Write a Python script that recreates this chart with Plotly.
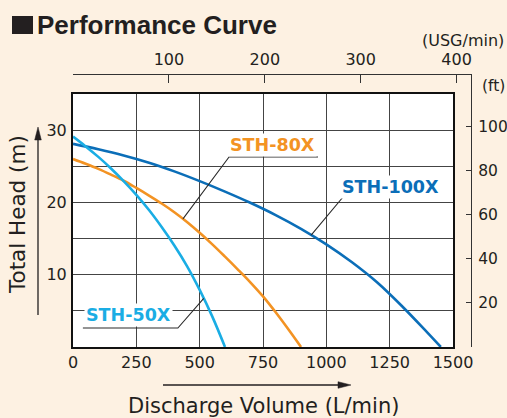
import numpy as np
import plotly.graph_objects as go

# ---------------- data ----------------
flow_50x = [0, 50, 100, 150, 200, 250, 300, 350, 400, 450, 500, 550, 600]
head_50x = [29.1, 27.75, 26.3, 24.7, 22.95, 21.05, 18.95, 16.6, 14.05, 11.2, 7.9, 4.2, 0.0]

flow_80x = [0, 50, 100, 150, 200, 250, 300, 350, 400, 450, 500, 550, 600, 650, 700, 750, 800, 850, 900]
head_80x = [26.0, 25.35, 24.65, 23.85, 23.0, 22.0, 20.95, 19.85, 18.65, 17.3, 15.8, 14.2, 12.5, 10.75,
            8.95, 7.0, 4.8, 2.45, 0.0]

flow_100x = [0, 100, 200, 300, 400, 500, 600, 700, 800, 900, 1000, 1100, 1200, 1300, 1400, 1452]
head_100x = [28.1, 27.35, 26.5, 25.5, 24.3, 22.95, 21.5, 19.95, 18.25, 16.35, 14.2, 11.75, 8.95, 5.6,
             1.95, 0.0]

series_names = ["STH-100X", "STH-80X", "STH-50X"]
series_colors = ["#0B6EB8", "#F39323", "#1AADE4"]

x_tickvals = [0, 250, 500, 750, 1000, 1250, 1500]
y_tickvals = [5, 10, 15, 20, 25, 30]
y_ticktext = ["", "10", "", "20", "", "30"]
usg_tickvals = [100, 200, 300, 400]
ft_tickvals = [20, 40, 60, 80, 100]

# label: name, text centre (L/min, m), underline x0, x1, y, pointer flow
label_names = ["STH-50X", "STH-80X", "STH-100X"]
label_text_x = [219, 786, 1255]
label_text_y = [4.45, 27.95, 22.2]
label_line_x0 = [39, 616, 1066]
label_line_x1 = [414, 967, 1445]
label_line_y = [2.63, 26.28, 20.75]
label_ptr_x = [516, 434, 940]

L_PER_USG = 3.78541
M_PER_FT = 0.3048

# ---------------- geometry ----------------
W, H = 507, 418
ML, MR, MT, MB = 73, 36, 75, 71
PW = W - ML - MR          # 398
PH = H - MT - MB          # 272
X_MAX, Y_MAX = 1500, 35
x_dom = 380 / PW
y_dom = 253 / PH


def P(px, py):
    return (px - ML) / PW, (H - MB - py) / PH


TXT = "#231F20"
FONT = "DejaVu Sans"

fig = go.Figure()

curves = {
    "STH-100X": (flow_100x, head_100x),
    "STH-80X": (flow_80x, head_80x),
    "STH-50X": (flow_50x, head_50x),
}
for name, color in zip(series_names, series_colors):
    fx, hy = curves[name]
    fig.add_trace(go.Scatter(x=fx, y=hy, mode="lines", name=name,
                             line=dict(color=color, width=2.6, shape="spline", smoothing=1.0),
                             showlegend=False, hoverinfo="skip"))

# invisible trace to create the secondary (USG / ft) frame
fig.add_trace(go.Scatter(x=[None], y=[None], xaxis="x2", yaxis="y2", mode="markers",
                         showlegend=False, hoverinfo="skip"))

shapes = []
annotations = []

# white plot area
shapes.append(dict(type="rect", xref="x", yref="y", x0=0, x1=X_MAX, y0=0, y1=Y_MAX,
                   fillcolor="white", line=dict(width=0), layer="below"))

# labels with leader lines
color_of = dict(zip(series_names, series_colors))
for name, tx, ty, lx0, lx1, ly, px_ in zip(label_names, label_text_x, label_text_y,
                                          label_line_x0, label_line_x1, label_line_y, label_ptr_x):
    fx, hy = curves[name]
    py_ = float(np.interp(px_, fx, hy))
    if name == "STH-50X":
        path = f"M {lx0},{ly} L {lx1},{ly} L {px_},{py_}"
    else:
        path = f"M {lx1},{ly} L {lx0},{ly} L {px_},{py_}"
    shapes.append(dict(type="path", xref="x", yref="y", path=path,
                       line=dict(color="#2a2a2a", width=1.1), layer="above"))
    annotations.append(dict(x=tx, y=ty, xref="x", yref="y", text=f"<b>{name}</b>", showarrow=False,
                            font=dict(family=FONT, size=17.5, color=color_of[name]),
                            bgcolor="white", borderpad=1, xanchor="center", yanchor="middle"))

# title square + text
sx0, sy0 = P(12, 34)
sx1, sy1 = P(33, 16)
shapes.append(dict(type="rect", xref="paper", yref="paper", x0=sx0, x1=sx1, y0=sy0, y1=sy1,
                   fillcolor="#231F20", line=dict(width=0)))
tx_, ty_ = P(35, 25)
annotations.append(dict(x=tx_, y=ty_, xref="paper", yref="paper", text="<b>Performance Curve</b>",
                        showarrow=False, xanchor="left", yanchor="middle",
                        font=dict(family="Liberation Sans", size=26, color=TXT)))

# unit labels
ux, uy = P(506, 40)
annotations.append(dict(x=ux, y=uy, xref="paper", yref="paper", text="(USG/min)", showarrow=False,
                        xanchor="right", yanchor="middle", font=dict(family=FONT, size=16, color=TXT)))
fx_, fy_ = P(480, 86)
annotations.append(dict(x=fx_, y=fy_, xref="paper", yref="paper", text="(ft)", showarrow=False,
                        xanchor="left", yanchor="middle", font=dict(family=FONT, size=15.5, color=TXT)))

# axis titles
yx, yy = P(17, 215)
annotations.append(dict(x=yx, y=yy, xref="paper", yref="paper", text="Total Head (m)", showarrow=False,
                        textangle=-90, xanchor="center", yanchor="middle",
                        font=dict(family=FONT, size=21.5, color=TXT)))
bx, by = P(263, 406)
annotations.append(dict(x=bx, y=by, xref="paper", yref="paper", text="Discharge Volume (L/min)",
                        showarrow=False, xanchor="center", yanchor="middle",
                        font=dict(family=FONT, size=21, color=TXT)))


# arrows
def add_arrow(p_tail, p_tip, head_len=13, head_half=3.3):
    (x0, y0), (x1, y1) = p_tail, p_tip
    dx, dy = x1 - x0, y1 - y0
    n = (dx * dx + dy * dy) ** 0.5
    ux_, uy_ = dx / n, dy / n
    bx_, by_ = x1 - ux_ * head_len, y1 - uy_ * head_len
    a0 = P(x0, y0)
    a1 = P(bx_ + ux_ * 2, by_ + uy_ * 2)
    shapes.append(dict(type="line", xref="paper", yref="paper", x0=a0[0], y0=a0[1], x1=a1[0], y1=a1[1],
                       line=dict(color=TXT, width=1.3)))
    c1 = P(bx_ - uy_ * head_half, by_ + ux_ * head_half)
    c2 = P(bx_ + uy_ * head_half, by_ - ux_ * head_half)
    tip = P(x1, y1)
    shapes.append(dict(type="path", xref="paper", yref="paper",
                       path=f"M {tip[0]},{tip[1]} L {c1[0]},{c1[1]} L {c2[0]},{c2[1]} Z",
                       fillcolor=TXT, line=dict(color=TXT, width=0.5)))


add_arrow((38, 315), (38, 127))
add_arrow((163, 385), (351, 385))

GRID = "#444444"
fig.update_layout(
    width=W, height=H, autosize=False,
    margin=dict(l=ML, r=MR, t=MT, b=MB, pad=0, autoexpand=False),
    paper_bgcolor="#FDF1E2", plot_bgcolor="rgba(0,0,0,0)",
    font=dict(family=FONT, size=16, color=TXT),
    xaxis=dict(domain=[0, x_dom], anchor="y", range=[0, X_MAX], tickvals=x_tickvals, automargin=False,
               showgrid=True, gridcolor=GRID, gridwidth=1.2, zeroline=False,
               showline=True, mirror=True, linecolor="#111", linewidth=2,
               ticks="", ticklabelstandoff=0, tickfont=dict(size=16, color=TXT)),
    yaxis=dict(domain=[0, y_dom], anchor="x", range=[0, Y_MAX], tickvals=y_tickvals, ticktext=y_ticktext,
               automargin=False,
               showgrid=True, gridcolor=GRID, gridwidth=1.2, zeroline=False,
               showline=True, mirror=True, linecolor="#111", linewidth=2,
               ticks="", ticklabelstandoff=1, tickfont=dict(size=16, color=TXT)),
    xaxis2=dict(domain=[0, 1], anchor="y2", side="top", automargin=False,
                range=[0, X_MAX / x_dom / L_PER_USG], tickvals=usg_tickvals,
                showgrid=False, zeroline=False, showline=True, linecolor="#333", linewidth=1.2,
                ticks="inside", ticklen=8, tickwidth=1.2, tickcolor="#333", ticklabelstandoff=3,
                tickfont=dict(size=16, color=TXT)),
    yaxis2=dict(domain=[0, 1], anchor="x2", side="right", automargin=False,
                range=[0, Y_MAX / y_dom / M_PER_FT], tickvals=ft_tickvals,
                showgrid=False, zeroline=False, showline=True, linecolor="#333", linewidth=1.2,
                ticks="inside", ticklen=5, tickwidth=1.2, tickcolor="#333", ticklabelstandoff=3,
                tickfont=dict(size=15.5, color=TXT)),
    shapes=shapes,
    annotations=annotations,
)

fig.write_html("out.html", config={"displayModeBar": False},
               post_script="document.body.style.margin='0px';document.body.style.overflow='hidden';")
